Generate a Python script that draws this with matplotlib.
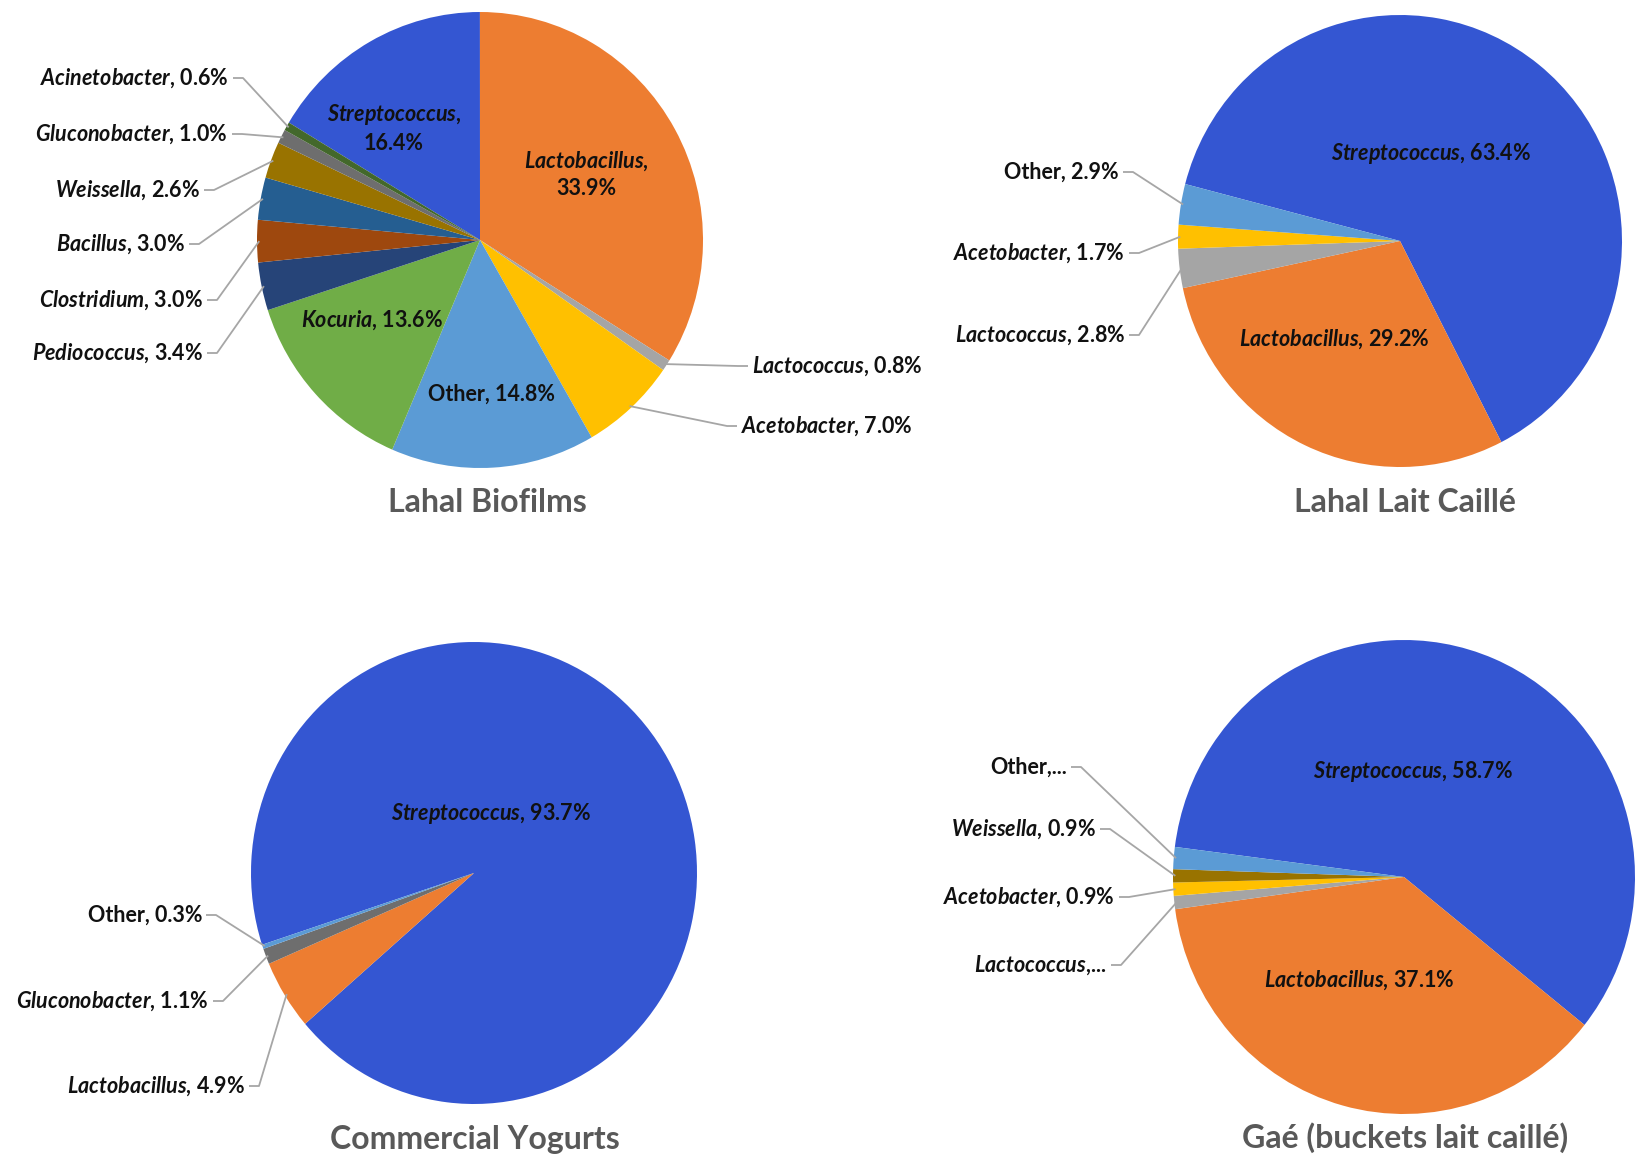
import math

import matplotlib

matplotlib.use("Agg")
import matplotlib.pyplot as plt
from matplotlib import font_manager
from matplotlib.transforms import Affine2D

W, H = 1652, 1171

# --- data -----------------------------------------------------------------
biofilm_genera = ["Streptococcus", "Lactobacillus", "Lactococcus", "Acetobacter", "Other",
                  "Kocuria", "Pediococcus", "Clostridium", "Bacillus", "Weissella",
                  "Gluconobacter", "Acinetobacter"]
biofilm_pct = [16.4, 33.9, 0.8, 7.0, 14.8, 13.6, 3.4, 3.0, 3.0, 2.6, 1.0, 0.6]

lait_genera = ["Streptococcus", "Lactobacillus", "Lactococcus", "Acetobacter", "Other"]
lait_pct = [63.4, 29.2, 2.8, 1.7, 2.9]

yogurt_genera = ["Streptococcus", "Lactobacillus", "Gluconobacter", "Other"]
yogurt_pct = [93.7, 4.9, 1.1, 0.3]

gae_genera = ["Streptococcus", "Lactobacillus", "Lactococcus", "Acetobacter", "Weissella", "Other"]
gae_pct = [58.7, 37.1, 0.9, 0.9, 0.9, 1.5]
gae_truncated = {"Other", "Lactococcus"}  # labels cut short in the original

titles = ["Lahal Biofilms", "Lahal Lait Caillé", "Commercial Yogurts", "Gaé (buckets lait caillé)"]

COLORS = {
    "Streptococcus": "#3456d2", "Lactobacillus": "#ed7d31", "Lactococcus": "#a5a5a5",
    "Acetobacter": "#ffc000", "Other": "#5b9bd5", "Kocuria": "#70ad47",
    "Pediococcus": "#264478", "Clostridium": "#9e480e", "Bacillus": "#255e91",
    "Weissella": "#997300", "Gluconobacter": "#6e6e6e", "Acinetobacter": "#43682b",
}


def pick_family(names):
    for name in names:
        try:
            font_manager.findfont(name, fallback_to_default=False)
            return name
        except ValueError:
            pass
    return "DejaVu Sans"


FAMILY = pick_family(["Liberation Sans Narrow", "Lato"])
plt.rcParams["font.family"] = [FAMILY, "DejaVu Sans"]
plt.rcParams["mathtext.fontset"] = "custom"
plt.rcParams["mathtext.it"] = f"{FAMILY}:italic:bold"
plt.rcParams["mathtext.rm"] = f"{FAMILY}:bold"
plt.rcParams["mathtext.bf"] = f"{FAMILY}:bold"


def label_text(genus, pct, wrap=False, truncated=False):
    name = genus if genus == "Other" else rf"$\it{{{genus}}}$"
    if truncated:
        return f"{name},..."
    sep = ",\n" if wrap else ", "
    return f"{name}{sep}{pct:.1f}%"


# pie layout: center (px), x/y radius (px), start angle, title spot, label spots (px)
pies = [
    dict(genera=biofilm_genera, pct=biofilm_pct, center=(480, 240), rx=223, ry=228,
         start=149.0, title=(487, 503),
         inside={"Streptococcus": (394, 128, True), "Lactobacillus": (586, 174, True),
                 "Kocuria": (372, 320, False), "Other": (492, 394, False)},
         outside={"Acinetobacter": (229, 78), "Gluconobacter": (228, 134),
                  "Weissella": (200, 190), "Bacillus": (185, 244),
                  "Clostridium": (203, 300), "Pediococcus": (203, 353),
                  "Lactococcus": (752, 366), "Acetobacter": (741, 426)}),
    dict(genera=lait_genera, pct=lait_pct, center=(1400, 241), rx=222, ry=226,
         start=165.4, title=(1405, 503),
         inside={"Streptococcus": (1431, 153, False), "Lactobacillus": (1334, 339, False)},
         outside={"Other": (1119, 172), "Acetobacter": (1125, 253), "Lactococcus": (1125, 335)}),
    dict(genera=yogurt_genera, pct=yogurt_pct, center=(474, 873), rx=223, ry=231,
         start=-161.9, title=(475, 1140),
         inside={"Streptococcus": (491, 814, False)},
         outside={"Other": (202, 915), "Gluconobacter": (209, 1001), "Lactobacillus": (245, 1086)}),
    dict(genera=gae_genera, pct=gae_pct, center=(1404, 877), rx=231, ry=237,
         start=172.7, title=(1405, 1138),
         inside={"Streptococcus": (1413, 771, False), "Lactobacillus": (1359, 980, False)},
         outside={"Other": (1067, 767), "Weissella": (1096, 829),
                  "Acetobacter": (1115, 897), "Lactococcus": (1107, 965)}),
]


def to_data(x, y):
    return x, H - y


fig = plt.figure(figsize=(W / 100, H / 100), dpi=100)
ax = fig.add_axes([0, 0, 1, 1])

LABEL_SIZE = 15.5
for spec, title in zip(pies, titles):
    cx, cy = to_data(*spec["center"])
    rx, ry = spec["rx"], spec["ry"]
    wedges, _ = ax.pie(spec["pct"], colors=[COLORS[g] for g in spec["genera"]],
                       center=(cx, cy), radius=rx, startangle=spec["start"],
                       counterclock=False, wedgeprops=dict(linewidth=0))
    # the original pies are slightly taller than wide
    stretch = Affine2D().translate(-cx, -cy).scale(1, ry / rx).translate(cx, cy)
    for wedge in wedges:
        wedge.set_transform(stretch + ax.transData)
    truncated = gae_truncated if spec["genera"] is gae_genera else set()

    for genus, pct, wedge in zip(spec["genera"], spec["pct"], wedges):
        if genus in spec["inside"]:
            x, y, wrap = spec["inside"][genus]
            ax.text(*to_data(x, y), label_text(genus, pct, wrap), ha="center", va="center",
                    fontsize=LABEL_SIZE, fontweight="bold", color="#111111",
                    linespacing=1.3)
        elif genus in spec["outside"]:
            x, y = spec["outside"][genus]
            tx, ty = to_data(x, y)
            left_side = tx < cx
            ax.text(tx, ty, label_text(genus, pct, truncated=genus in truncated),
                    ha="right" if left_side else "left", va="center",
                    fontsize=LABEL_SIZE, fontweight="bold", color="#111111")
            # leader line: short horizontal stub, then to the slice rim
            mid = math.radians((wedge.theta1 + wedge.theta2) / 2)
            ex, ey = cx + 0.99 * rx * math.cos(mid), cy + 0.99 * ry * math.sin(mid)
            sign = 1 if left_side else -1
            ax.plot([tx + 4 * sign, tx + 14 * sign, ex], [ty, ty, ey],
                    color="#a6a6a6", linewidth=1.3, solid_capstyle="butt")

    ax.text(*to_data(*spec["title"]), title, ha="center", va="center",
            fontsize=23, fontweight="bold", color="#595959")

ax.set_xlim(0, W)
ax.set_ylim(0, H)
ax.set_aspect("equal")
ax.axis("off")

fig.savefig("out.png", dpi=100, facecolor="white")
